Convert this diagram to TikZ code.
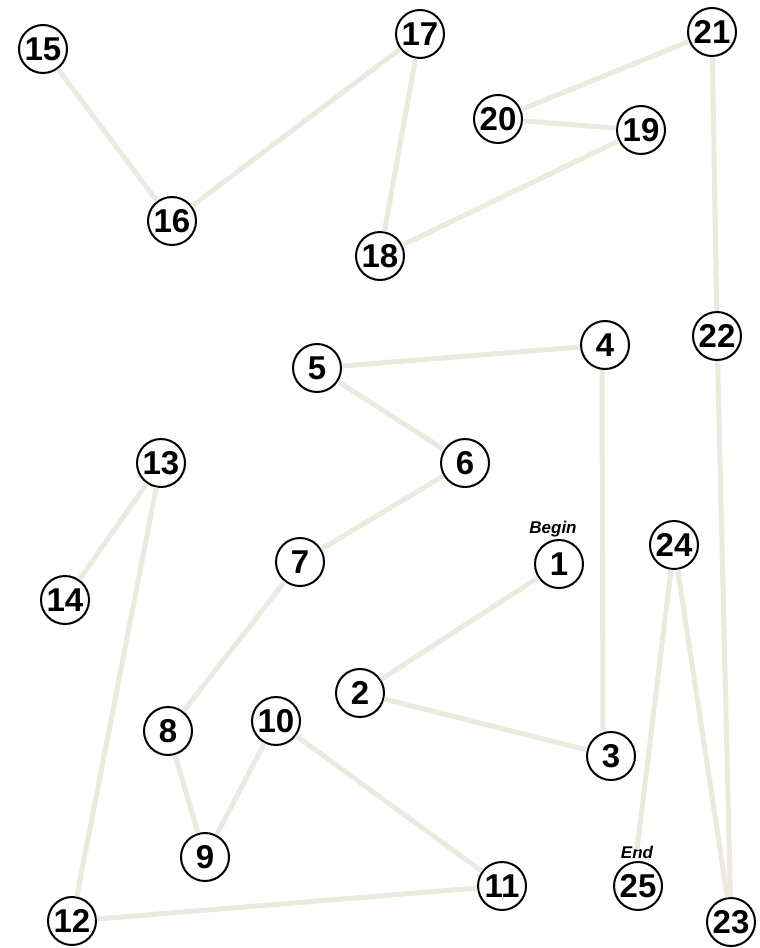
\documentclass[tikz,border=0pt]{standalone}
\usepackage{fontspec}
\setmainfont{Liberation Sans}
\definecolor{linebeige}{RGB}{236,233,222}
\tikzset{
  stop/.style={circle, draw=black, line width=2pt, minimum size=48pt, inner sep=0pt,
    font=\fontsize{33}{33}\selectfont\bfseries},
  leg/.style={draw=linebeige, line width=5pt},
  tag/.style={font=\fontsize{17}{17}\selectfont\bfseries\itshape, inner sep=0pt}
}
\begin{document}
\begin{tikzpicture}[x=1pt,y=-1pt]
\useasboundingbox (0,0) rectangle (760,948);
\fill[white] (0,0) rectangle (760,948);
\node[stop] (n1) at (559,564) {1};
\node[stop] (n2) at (360,693) {2};
\node[stop] (n3) at (611,756) {3};
\node[stop] (n4) at (605,345) {4};
\node[stop] (n5) at (317,368) {5};
\node[stop] (n6) at (465,463) {6};
\node[stop] (n7) at (300,562) {7};
\node[stop] (n8) at (168,731) {8};
\node[stop] (n9) at (205,857) {9};
\node[stop] (n10) at (276,721) {10};
\node[stop] (n11) at (502,886) {11};
\node[stop] (n12) at (72,921) {12};
\node[stop] (n13) at (161,463) {13};
\node[stop] (n14) at (65,600) {14};
\node[stop] (n15) at (43,49) {15};
\node[stop] (n16) at (172,221) {16};
\node[stop] (n17) at (420,34) {17};
\node[stop] (n18) at (380,256) {18};
\node[stop] (n19) at (641,130) {19};
\node[stop] (n20) at (498,119) {20};
\node[stop] (n21) at (712,32) {21};
\node[stop] (n22) at (717,336) {22};
\node[stop] (n23) at (731,922) {23};
\node[stop] (n24) at (674,545) {24};
\node[stop] (n25) at (638,886) {25};
\node[tag] (begin) at (553,529) {Begin};
\node[tag] (end) at (637,852) {End};
\coordinate (c3) at ([xshift=-8pt]n3.north);
\coordinate (c4) at ([xshift=-3pt]n4.south);
\coordinate (c25) at ([yshift=-4pt]end.north);
\draw[leg] (n1) -- (n2);
\draw[leg] (n2) -- (n3);
\draw[leg] (c4) -- (c3);
\draw[leg] (n4) -- (n5);
\draw[leg] (n5) -- (n6);
\draw[leg] (n6) -- (n7);
\draw[leg] (n7) -- (n8);
\draw[leg] (n8) -- (n9);
\draw[leg] (n9) -- (n10);
\draw[leg] (n10) -- (n11);
\draw[leg] (n11) -- (n12);
\draw[leg] (n12) -- (n13);
\draw[leg] (n13) -- (n14);
\draw[leg] (n15) -- (n16);
\draw[leg] (n16) -- (n17);
\draw[leg] (n17) -- (n18);
\draw[leg] (n18) -- (n19);
\draw[leg] (n19) -- (n20);
\draw[leg] (n20) -- (n21);
\draw[leg] (n21) -- (n22);
\draw[leg] (n22) -- (n23);
\draw[leg] (n23) -- (n24);
\draw[leg] (n24) -- (c25);
\end{tikzpicture}
\end{document}
